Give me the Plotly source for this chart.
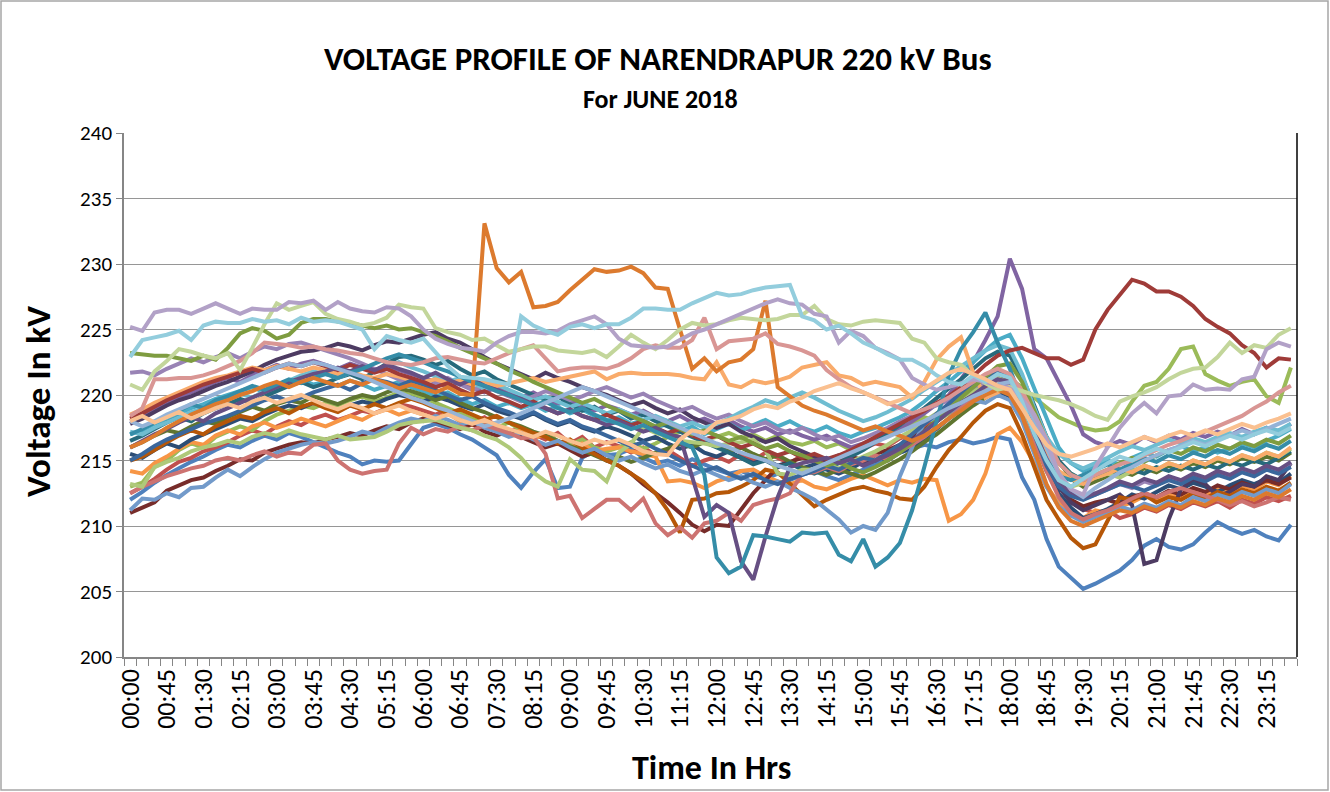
import plotly.graph_objects as go

# ---------------- data ----------------
hours = [f"{h:02d}" for h in range(24)]
minutes = ["00", "15", "30", "45"]
times = [f"{h}:{m}" for h in hours for m in minutes]   # 96 categories 00:00 .. 23:45

jun01 = [212.0,212.6,213.3,213.9,214.4,214.9,215.3,215.8, 216.2,216.0,216.5,216.9,216.6,217.1,216.8,216.4,
         216.0,215.6,215.3,214.7,215.0,214.9,215.0,216.3, 217.5,217.8,217.5,217.0,216.6,216.0,215.4,213.9,
         212.9,214.1,215.1,212.9,213.0,215.2,215.8,215.4, 215.5,215.9,215.2,214.8,215.0,214.6,215.1,214.7,
         214.3,214.0,214.2,213.8,213.6,214.0,213.5,213.9, 214.2,213.8,213.5,213.9,214.3,214.8,215.2,215.6,
         215.9,216.2,216.0,216.4,216.6,216.3,216.5,216.8, 216.6,213.7,212.0,209.0,206.9,206.0,205.2,205.6,
         206.1,206.6,207.4,208.5,209.0,208.4,208.2,208.6, 209.5,210.3,209.8,209.4,209.7,209.2,208.9,210.1]
jun02 = [212.5,213.0,213.6,214.3,214.9,215.2,215.7,216.0, 216.4,216.9,217.3,217.0,217.6,218.0,217.7,218.2,
         218.5,218.1,218.4,218.8,218.6,219.0,219.3,219.1, 218.8,218.5,218.9,218.2,217.9,218.3,217.6,217.2,
         217.5,217.0,216.6,217.1,216.3,216.8,216.0,216.4, 216.1,215.6,216.0,215.4,215.8,215.2,214.6,215.0,
         215.3,214.9,215.5,215.0,215.6,215.2,214.8,215.4, 215.1,214.7,215.0,215.5,215.9,216.3,216.1,216.7,
         217.0,217.6,218.1,218.7,219.3,219.8,220.5,221.2, 221.0,219.4,217.2,215.3,213.2,212.0,211.3,211.0,
         211.2,210.6,210.9,211.4,211.1,211.6,211.3,211.8, 211.5,211.9,211.4,212.0,211.7,212.2,211.9,212.3]
jun03 = [213.0,213.3,214.5,215.0,215.8,216.3,216.0,216.8, 217.2,217.6,217.3,218.0,218.5,218.8,219.2,219.0,
         219.4,219.2,219.6,219.9,219.5,219.8,220.2,220.0, 219.8,219.4,219.0,218.6,218.2,217.8,217.5,217.9,
         217.3,216.8,217.1,216.5,216.2,216.6,216.0,215.7, 216.0,216.4,215.9,216.3,216.8,217.2,217.0,216.6,
         216.8,217.1,216.7,217.0,216.5,216.9,216.4,216.2, 216.5,216.0,216.3,215.8,216.1,216.4,216.9,217.3,
         217.8,218.3,218.0,218.6,219.1,219.5,220.3,220.8, 221.2,220.6,219.8,219.0,218.3,217.9,217.5,217.3,
         217.4,218.0,219.5,220.7,221.0,222.0,223.5,223.7, 221.6,221.1,220.7,221.0,221.2,219.9,219.4,222.1]
jun04 = [218.0,218.4,218.9,219.5,219.8,220.2,220.6,221.0, 221.3,221.0,221.5,221.9,222.3,222.0,222.4,222.6,
         222.3,222.0,222.4,222.1,221.8,222.2,221.9,221.6, 221.3,221.0,220.6,221.0,220.5,220.2,220.6,220.1,
         219.8,220.2,219.7,219.3,219.6,219.1,218.8,219.2, 218.9,218.5,218.8,218.3,218.0,218.4,217.9,218.2,
         217.8,218.1,217.6,217.2,217.5,217.0,217.3,216.9, 216.6,216.9,216.4,216.0,216.3,216.7,217.1,217.4,
         218.0,218.6,219.3,220.0,221.2,222.5,224.2,226.0, 230.4,228.1,223.5,222.8,221.0,219.2,217.0,216.4,
         216.1,216.5,216.2,216.8,216.4,216.9,216.6,217.1, 216.8,217.2,216.9,217.4,217.0,217.5,217.2,217.8]
jun05 = [217.0,217.3,217.8,218.2,218.6,219.0,219.3,219.7, 220.0,220.3,220.6,220.2,220.5,220.9,221.2,220.8,
         221.0,220.7,221.1,220.8,220.4,220.7,221.0,220.6, 220.3,219.9,220.2,219.7,219.3,219.6,219.1,219.4,
         219.0,219.3,218.8,219.1,218.6,218.9,218.4,218.0, 218.3,217.8,218.1,217.5,217.8,217.2,217.6,217.0,
         217.4,217.8,217.3,217.7,218.1,217.6,218.0,217.5, 217.2,217.6,217.1,216.8,217.2,217.5,217.9,218.3,
         218.8,219.5,220.3,221.0,221.8,222.5,223.4,224.2, 224.6,222.8,220.5,218.2,216.0,214.8,214.2,214.6,
         215.0,214.7,215.2,215.6,215.3,215.8,216.1,215.7, 216.0,215.6,215.9,216.3,216.0,216.5,216.9,217.4]
jun06 = [214.2,214.0,214.8,215.3,215.9,216.4,216.2,216.9, 217.3,217.0,217.6,217.9,217.5,217.8,218.2,217.9,
         217.6,218.0,218.4,218.1,218.6,218.9,218.5,218.8, 218.5,218.2,218.6,218.0,217.7,218.1,217.4,217.0,
         217.3,216.7,217.0,216.4,216.0,216.3,215.7,215.9, 216.0,215.7,215.5,215.3,213.4,213.5,213.3,212.9,
         213.4,213.7,214.2,214.3,213.8,213.4,213.2,213.5, 213.0,212.8,213.2,213.6,213.9,213.5,213.1,213.5,
         213.3,213.6,213.5,210.4,210.9,212.0,214.0,217.0, 217.5,216.4,214.8,213.0,211.8,211.0,210.6,211.2,
         211.0,211.5,211.8,212.3,212.0,212.5,212.2,212.7, 212.4,212.9,212.6,213.1,212.8,213.4,213.1,213.8]
jun07 = [215.5,215.2,215.8,216.3,216.0,216.6,217.0,217.4, 217.8,218.2,218.0,218.5,218.9,219.2,219.0,219.4,
         219.1,218.8,219.2,219.5,219.3,219.7,220.0,219.8, 219.5,219.9,219.6,219.2,218.9,219.3,218.8,218.5,
         218.2,218.6,218.1,217.7,218.0,217.5,217.2,217.6, 217.3,216.9,216.5,216.8,216.3,215.9,216.2,215.6,
         215.3,215.7,215.2,214.8,215.1,214.6,214.9,214.4, 214.7,214.3,214.0,214.4,214.9,215.4,215.0,215.6,
         216.0,216.7,217.4,218.2,218.9,219.5,219.9,220.3, 219.9,218.6,216.5,214.2,212.5,211.4,210.6,210.9,
         211.3,211.8,212.4,212.1,212.6,213.1,212.8,213.3, 213.0,212.6,213.1,213.5,213.2,213.6,213.3,214.0]
jun08 = [211.0,211.4,211.8,212.7,213.1,213.5,213.7,214.2, 214.6,215.1,215.0,215.6,215.9,216.2,216.4,216.3,
         216.6,216.8,217.1,216.9,217.3,217.6,217.4,217.9, 218.2,218.0,217.7,217.4,217.8,217.2,216.9,217.3,
         216.8,216.4,216.0,216.3,215.8,215.3,215.6,215.0, 214.6,214.0,213.2,212.5,211.8,211.0,210.1,209.6,
         210.1,210.0,211.2,212.5,213.5,214.5,214.9,215.2, 215.0,214.6,214.9,215.3,215.0,215.5,215.8,216.2,
         216.7,217.3,218.0,218.8,219.6,220.4,221.0,221.5, 221.2,219.5,217.3,215.0,213.0,212.0,211.5,211.8,
         212.0,211.7,212.2,212.5,212.2,212.7,212.4,212.9, 212.6,213.1,212.8,213.3,213.0,213.5,213.2,213.7]
jun09 = [216.0,216.4,216.9,217.3,217.1,217.6,218.0,217.8, 218.3,218.7,219.1,218.8,219.3,219.6,219.4,219.9,
         219.6,219.3,219.7,220.0,219.8,220.2,220.5,220.3, 220.0,219.6,219.9,219.4,219.0,218.7,218.3,217.9,
         217.6,217.2,216.9,216.5,216.1,215.8,215.4,215.0, 215.3,214.9,215.2,215.6,215.9,216.3,216.0,216.4,
         216.1,215.7,216.0,215.5,215.1,215.4,214.9,214.5, 214.2,213.9,214.3,214.0,213.7,214.1,214.6,215.1,
         215.7,216.4,217.0,217.8,218.5,219.2,219.8,220.4, 220.8,220.0,218.6,216.8,215.0,213.6,213.0,213.4,
         213.8,214.2,213.9,214.4,214.1,214.6,214.3,214.8, 214.5,215.0,214.7,215.2,214.9,215.3,215.0,215.6]
jun10 = [217.8,218.2,218.7,219.2,219.6,219.9,220.3,220.7, 221.0,221.4,221.8,222.3,222.7,223.0,223.3,223.4,
         223.6,223.9,223.7,223.4,223.8,224.1,224.0,224.3, 224.6,224.8,224.3,224.0,223.5,222.9,222.4,222.0,
         221.6,221.2,221.7,221.3,221.0,220.6,220.3,220.0, 219.6,219.2,219.5,219.0,218.6,218.9,218.3,217.9,
         217.5,217.8,217.2,216.8,216.4,216.7,216.1,215.7, 215.3,215.0,215.4,215.1,214.7,215.0,215.5,216.0,
         216.6,217.2,218.0,218.8,219.6,220.3,221.0,221.6, 221.4,219.6,217.4,215.2,213.0,211.8,211.2,211.6,
         212.0,212.4,211.6,207.1,207.4,210.5,212.8,213.6, 213.2,212.3,212.6,213.2,213.0,213.8,213.5,214.8]
jun11 = [216.5,216.9,217.4,217.9,218.3,218.0,218.6,219.0, 219.3,219.7,219.4,219.9,220.3,220.7,221.0,220.6,
         220.9,221.3,221.6,221.2,221.8,222.4,222.9,223.0, 222.7,222.3,222.6,222.0,221.5,221.8,221.2,220.8,
         220.4,220.0,219.6,219.9,219.3,218.8,219.1,218.5, 218.8,218.2,218.5,218.0,217.6,217.2,216.8,216.4,
         216.0,215.6,215.2,214.7,215.0,214.5,214.8,214.3, 214.0,214.4,214.8,215.3,215.8,216.4,217.1,217.7,
         218.4,219.0,219.8,220.5,221.2,222.0,222.8,223.3, 223.0,221.4,219.2,216.8,215.0,214.0,213.5,213.8,
         214.1,213.8,214.3,214.0,214.5,214.2,214.6,214.3, 214.7,214.4,214.9,214.6,215.0,214.7,215.2,215.7]
jun12 = [215.0,215.3,215.8,216.4,216.9,217.3,217.0,217.6, 218.0,218.4,218.2,218.7,219.0,218.6,219.1,219.4,
         219.0,218.7,219.2,218.9,219.3,219.0,219.4,219.7, 219.4,219.0,218.6,218.9,218.5,218.1,218.4,217.9,
         217.5,217.1,216.8,216.3,216.6,216.0,215.5,215.0, 214.6,214.0,213.4,212.5,211.2,209.5,212.0,212.1,
         212.5,212.6,213.0,213.5,214.3,214.1,213.2,212.4, 211.5,212.0,212.4,212.8,213.0,212.7,212.5,212.1,
         212.0,213.0,214.5,215.8,216.8,217.9,218.8,219.3, 219.0,217.0,214.5,212.0,210.5,209.1,208.3,208.6,
         210.4,212.2,212.0,212.4,211.8,212.2,212.0,212.5, 212.1,212.6,212.3,212.8,212.5,213.0,212.7,213.3]
jun13 = [211.2,212.1,212.0,212.5,212.2,212.9,213.0,213.7, 214.3,213.8,214.5,215.1,215.6,215.9,216.2,216.4,
         216.3,216.5,216.8,217.2,217.0,217.5,217.9,218.2, 218.0,218.4,218.1,217.7,218.0,217.5,217.2,216.8,
         217.1,216.6,216.2,216.5,216.0,215.6,215.9,215.4, 215.0,215.3,214.8,214.4,214.7,214.2,213.9,214.3,
         213.9,213.5,213.8,213.3,213.0,213.4,212.9,212.5, 212.0,211.2,210.5,209.5,210.0,209.7,211.0,213.8,
         216.0,217.9,218.3,218.7,219.1,219.6,219.4,220.0, 219.6,218.0,215.5,213.0,211.5,210.8,210.3,210.7,
         211.0,211.5,211.2,211.7,211.4,211.9,211.6,212.2, 211.9,212.4,212.1,212.6,212.3,212.8,212.5,213.2]
jun14 = [212.5,213.0,213.4,213.8,214.1,214.4,214.6,215.0, 215.2,215.0,215.4,215.7,215.3,215.6,215.5,216.2,
         216.3,215.0,214.3,214.0,214.2,214.3,216.3,217.5, 217.0,217.4,217.2,217.6,217.3,217.7,217.4,217.1,
         216.7,216.8,215.5,212.1,212.3,210.6,211.3,212.0, 212.0,211.2,212.1,210.2,209.3,209.9,209.1,210.2,
         210.4,211.0,210.4,211.6,211.9,212.1,212.5,214.0, 214.1,214.5,214.2,214.7,215.0,215.4,215.1,215.7,
         216.2,216.8,217.5,218.2,219.0,219.6,220.2,220.6, 220.3,218.8,216.5,214.2,212.2,211.0,210.5,210.9,
         211.2,211.6,212.1,212.5,212.2,212.6,212.9,212.6, 212.3,212.0,211.6,211.9,211.5,211.8,212.2,212.0]
jun15 = [213.2,213.0,214.5,214.9,215.2,215.7,216.0,216.2, 216.5,216.3,216.8,217.1,216.9,217.3,217.0,216.8,
         216.6,216.9,216.6,216.7,216.8,217.2,217.7,217.9, 218.0,218.1,217.8,217.5,217.3,216.9,216.6,216.0,
         215.2,214.1,213.4,213.0,215.1,214.3,214.2,213.4, 215.6,216.3,217.5,217.1,216.8,216.5,216.4,216.3,
         216.1,216.3,216.4,216.6,215.8,214.0,213.9,214.3, 214.3,214.7,214.4,214.9,215.3,215.7,216.2,216.8,
         217.3,218.0,218.6,219.2,219.8,220.3,220.9,221.3, 220.9,219.2,217.0,215.0,213.6,213.0,213.3,213.7,
         214.0,213.7,214.2,214.6,214.3,214.8,214.5,215.0, 214.7,215.2,214.9,215.4,215.1,215.6,215.3,215.9]
jun16 = [221.7,221.8,221.5,222.0,222.4,222.8,222.5,222.9, 223.2,222.8,223.3,223.7,223.5,223.9,224.0,223.7,
         223.4,223.1,222.8,222.4,222.0,221.6,221.2,220.8, 220.5,220.9,221.3,220.8,220.4,220.7,220.3,219.9,
         219.5,219.9,220.3,220.0,219.6,219.9,220.3,220.6, 220.2,219.8,220.1,219.6,219.2,218.8,219.1,218.6,
         218.2,218.5,218.0,217.6,217.9,217.4,217.1,217.5, 217.0,216.6,216.9,216.4,216.7,217.1,217.5,218.0,
         218.4,218.9,219.2,219.6,220.2,220.6,221.0,221.2, 220.6,219.4,217.6,215.5,213.4,212.5,212.1,212.4,
         212.8,213.2,212.9,213.4,213.1,213.6,213.3,213.8, 213.5,214.0,213.7,214.2,214.0,214.4,214.2,214.8]
jun17 = [217.2,217.0,217.5,217.9,218.3,218.7,219.0,219.4, 219.7,220.1,219.8,220.3,220.7,221.1,221.5,221.8,
         221.6,221.3,221.7,222.1,221.8,222.2,222.5,222.1, 221.8,221.4,221.0,221.3,220.9,220.5,220.8,220.4,
         220.0,219.6,219.9,219.5,219.1,219.4,219.0,218.6, 218.9,218.5,218.1,218.4,218.0,217.6,217.9,217.5,
         217.8,218.2,218.7,219.1,219.6,219.3,219.8,220.2, 219.8,219.3,218.8,218.4,218.0,218.3,218.7,219.2,
         219.7,220.4,221.0,221.6,222.2,222.8,223.4,223.8, 223.5,221.6,219.0,216.8,215.5,214.8,214.4,214.8,
         215.2,215.7,216.1,215.8,216.2,216.6,216.3,216.7, 216.4,216.8,217.1,216.8,217.2,217.5,217.3,217.8]
jun18 = [218.5,218.9,219.4,219.8,220.2,220.6,221.0,221.3, 221.5,221.8,222.1,221.9,222.2,222.0,221.8,222.1,
         221.9,221.6,221.8,221.5,221.3,221.6,221.4,221.1, 221.0,221.2,220.9,221.1,220.8,221.0,220.7,220.9,
         221.1,221.3,221.0,221.2,221.4,221.6,221.8,221.2, 221.6,221.7,221.6,221.6,221.6,221.5,221.3,221.2,
         222.5,220.8,220.6,221.1,220.9,221.1,221.4,222.1, 222.3,222.5,221.5,221.3,220.8,221.0,220.8,220.6,
         219.8,221.0,222.7,223.7,224.4,221.7,219.8,220.2, 220.6,220.5,218.2,215.8,214.2,213.6,213.2,213.7,
         214.0,214.4,214.1,214.6,214.3,214.8,214.5,215.0, 214.7,215.2,214.9,215.4,215.1,215.6,215.3,216.0]
jun19 = [215.0,215.5,216.1,216.6,217.0,217.4,217.8,218.1, 218.4,218.8,219.2,219.6,219.9,219.5,219.8,220.2,
         220.5,220.8,220.4,220.9,221.2,221.0,220.7,221.1, 220.8,220.4,220.0,219.6,219.9,219.4,219.0,218.7,
         218.3,218.7,218.2,217.8,218.1,217.6,217.3,216.9, 216.5,216.1,216.4,215.9,215.5,215.0,214.6,214.2,
         214.5,214.0,213.6,214.0,213.5,213.2,213.6,213.9, 214.2,214.6,214.3,214.8,215.2,215.0,215.6,216.2,
         217.0,217.8,218.6,219.4,220.1,220.8,221.4,221.8, 221.5,219.7,217.0,214.6,213.0,212.3,212.0,212.4,
         212.8,213.2,213.0,212.7,213.1,213.5,213.2,213.7, 213.4,213.9,213.6,214.1,213.8,214.3,214.0,214.5]
jun20 = [218.2,218.6,219.1,219.6,220.0,220.4,220.8,221.1, 221.4,221.7,222.0,221.7,222.1,222.4,222.2,222.5,
         222.2,221.9,222.3,222.0,221.7,222.0,221.6,221.3, 221.0,220.6,220.9,220.4,220.0,220.3,219.8,219.5,
         219.1,219.5,219.0,218.6,218.9,218.4,218.1,218.5, 218.1,217.7,218.0,217.5,217.1,217.4,216.9,216.6,
         216.9,216.4,216.0,216.3,215.8,215.4,215.7,215.2, 215.5,215.1,215.4,215.8,216.3,216.8,217.3,217.8,
         218.3,218.8,219.4,219.9,220.6,221.5,222.3,223.0, 223.4,223.6,223.2,222.8,222.8,222.3,222.7,225.0,
         226.5,227.6,228.8,228.5,227.9,227.9,227.5,226.8, 225.8,225.2,224.7,223.8,223.2,222.1,222.8,222.7]
jun21 = [223.2,223.1,223.0,223.0,222.8,222.6,223.0,222.7, 223.6,224.7,225.1,224.9,224.3,224.6,225.5,225.8,
         225.8,225.6,225.5,225.3,225.1,225.3,225.0,225.1, 224.8,224.5,224.1,223.6,223.2,222.8,222.4,221.9,
         221.5,221.0,220.6,220.2,219.8,219.4,219.7,219.2, 218.8,218.4,218.0,217.6,217.9,217.4,217.0,217.3,
         216.9,216.5,216.8,216.3,215.9,216.2,215.7,215.4, 215.0,214.6,214.9,214.4,214.1,214.5,215.0,215.6,
         216.4,217.2,218.0,218.9,219.8,220.6,221.5,222.2, 222.4,221.0,218.8,216.5,214.8,213.9,213.5,213.9,
         214.3,214.8,215.2,214.9,215.4,215.8,215.5,216.0, 215.7,216.2,215.9,216.4,216.1,216.6,216.3,216.9]
jun22 = [216.0,216.5,217.0,217.4,217.9,218.3,218.0,218.6, 219.0,219.4,219.8,220.2,220.6,221.0,221.3,221.6,
         221.8,222.1,221.8,222.2,221.9,222.3,222.0,221.7, 221.3,221.7,221.2,220.8,221.2,220.7,220.4,220.0,
         219.7,219.3,219.0,218.6,218.9,218.4,218.1,217.7, 218.0,217.6,217.2,217.5,217.0,216.8,213.7,210.7,
         211.6,211.0,207.3,205.9,209.2,212.2,214.5,214.8, 215.0,215.2,214.8,215.1,214.6,215.0,215.4,215.9,
         216.5,217.2,218.0,218.7,219.4,220.0,220.7,221.2, 221.0,219.5,217.3,215.1,213.4,212.6,212.2,212.5,
         212.9,213.4,213.1,213.6,213.3,213.8,213.5,214.0, 213.7,214.2,213.9,214.4,214.1,214.6,214.3,214.9]
jun23 = [217.0,217.4,217.9,218.4,218.8,219.3,219.0,219.6, 219.9,220.3,220.7,220.4,220.8,221.2,220.9,221.3,
         221.6,221.3,221.7,222.0,222.4,222.8,223.1,222.8, 222.5,222.1,221.8,221.4,221.0,220.7,220.3,220.0,
         219.6,219.2,219.5,219.0,218.7,219.0,218.5,218.1, 217.8,217.4,217.7,217.2,216.8,216.4,216.0,213.9,
         207.6,206.4,206.9,209.3,209.2,209.0,208.8,209.5, 209.4,209.5,207.8,207.3,209.0,206.9,207.6,208.7,
         211.2,214.5,218.0,221.5,223.5,224.8,226.3,224.0, 222.0,219.5,217.0,215.0,213.8,213.5,213.9,214.3,
         214.7,214.3,214.8,215.2,214.9,215.4,215.1,215.6, 215.3,215.8,215.5,216.0,215.7,216.2,215.9,216.5]
jun24 = [216.0,216.4,216.9,217.5,218.0,218.5,218.9,219.3, 219.6,220.0,220.3,220.7,221.0,220.6,221.0,221.3,
         221.0,220.7,221.1,220.8,221.2,220.9,220.5,220.8, 220.5,220.2,220.6,220.1,220.0,233.1,229.7,228.6,
         229.4,226.7,226.8,227.1,228.0,228.8,229.6,229.4, 229.5,229.8,229.3,228.2,228.1,225.0,222.0,222.8,
         221.8,222.5,222.7,223.5,227.2,220.6,219.9,219.2, 218.8,218.5,218.1,217.7,217.3,217.6,217.2,216.9,
         216.5,216.9,217.5,218.2,218.8,219.5,220.0,220.4, 220.0,218.4,215.8,213.2,211.4,210.4,210.0,210.4,
         210.8,211.2,211.0,211.5,211.2,211.7,211.4,211.9, 211.6,212.1,211.8,212.3,212.0,212.5,212.2,212.8]
jun25 = [218.0,217.6,218.0,218.5,218.9,219.3,219.7,220.1, 220.5,220.9,221.3,221.7,222.1,222.4,222.2,222.5,
         222.3,222.0,221.7,221.4,221.0,220.6,220.2,219.8, 219.5,219.1,218.8,218.4,218.0,217.6,217.9,218.2,
         218.6,219.0,219.4,219.8,220.2,220.6,220.3,219.9, 219.5,219.1,218.7,218.3,217.9,217.5,217.1,216.7,
         216.3,216.0,215.6,215.3,215.0,214.6,214.3,214.0, 214.4,214.8,215.2,215.6,216.0,216.4,216.8,217.2,
         217.6,218.0,218.5,219.0,219.4,219.9,220.3,220.8, 221.0,220.0,218.0,216.0,214.0,212.8,212.2,212.9,
         213.5,214.1,214.5,215.0,215.4,215.8,216.1,216.5, 216.2,216.6,216.9,217.3,217.0,217.4,217.8,218.2]
jun26 = [218.4,219.0,221.2,221.2,221.3,221.3,221.5,221.8, 222.2,222.6,223.2,224.0,223.9,223.8,223.6,223.7,
         223.5,223.4,223.2,223.1,222.8,222.5,222.4,222.3, 222.5,222.8,222.9,222.7,222.5,222.4,222.8,223.2,
         223.5,223.8,222.8,221.8,222.0,222.1,222.1,222.0, 222.3,222.8,223.5,223.8,223.6,223.6,224.2,225.9,
         223.5,224.1,224.2,224.3,224.7,223.9,223.7,223.4, 223.0,221.9,221.2,220.6,220.2,219.8,219.4,219.0,
         218.6,218.9,219.3,219.8,220.4,221.0,221.6,222.0, 221.6,220.3,218.5,216.6,214.8,213.9,213.5,213.9,
         214.3,214.7,215.0,215.4,215.8,216.2,216.5,216.9, 217.2,217.6,218.0,218.4,219.0,219.5,220.2,220.7]
jun27 = [220.8,220.4,221.8,222.6,223.5,223.3,223.0,222.8, 223.2,221.9,223.6,225.4,227.0,226.5,226.8,227.1,
         226.2,225.8,225.6,225.3,225.5,225.9,226.9,226.7, 226.6,225.1,224.8,224.6,224.2,224.3,223.8,223.3,
         223.5,223.7,223.7,223.4,223.3,223.2,223.4,222.9, 223.7,224.6,224.0,223.5,224.2,225.0,225.5,225.3,
         225.4,225.7,225.9,225.8,225.7,225.8,226.1,226.1, 226.8,225.8,225.4,225.3,225.6,225.7,225.6,225.5,
         224.3,224.0,222.8,222.5,222.3,221.5,220.9,220.4, 220.6,220.3,220.0,219.8,219.6,219.3,218.9,218.4,
         218.1,219.5,219.9,220.2,220.6,221.2,221.7,222.0, 222.1,222.9,224.0,223.2,223.8,223.6,224.6,225.1]
jun28 = [225.2,224.9,226.3,226.5,226.5,226.2,226.6,227.0, 226.6,226.2,226.6,226.5,226.5,227.1,227.0,227.2,
         226.5,227.1,226.6,226.4,226.3,226.7,226.6,226.0, 225.0,224.3,223.9,223.6,223.5,223.3,224.0,224.5,
         224.8,224.8,224.7,224.9,225.4,225.7,226.0,225.4, 224.3,223.8,223.7,223.6,223.7,224.2,224.7,225.0,
         225.4,225.8,226.2,226.6,227.0,227.3,227.0,226.9, 226.2,226.0,224.0,224.9,224.5,223.6,223.2,222.7,
         221.3,220.8,220.4,220.6,220.9,221.2,221.0,220.7, 220.5,219.7,218.5,216.5,214.0,212.8,212.4,214.5,
         216.0,217.5,218.6,219.4,218.6,219.9,220.0,220.8, 220.4,220.5,220.4,221.2,221.4,223.5,224.0,223.7]
jun29 = [222.9,224.2,224.4,224.6,224.9,224.2,225.3,225.6, 225.5,225.5,225.8,225.6,225.7,225.4,225.9,225.6,
         225.7,225.6,225.3,225.0,223.5,224.5,224.2,224.0, 224.3,223.3,222.2,221.4,221.3,221.2,221.0,220.8,
         226.0,225.3,224.9,224.6,225.2,225.4,225.1,225.4, 225.4,225.9,226.6,226.6,226.5,226.5,227.0,227.4,
         227.8,227.6,227.7,228.0,228.2,228.3,228.4,226.0, 225.7,225.0,225.3,224.7,224.0,223.6,223.1,222.7,
         222.7,222.2,221.5,221.0,220.8,221.5,221.0,221.6, 221.3,219.5,217.0,215.0,213.5,213.0,213.6,214.2,
         214.8,215.3,215.0,215.5,215.9,215.6,216.0,216.4, 216.1,216.5,216.9,216.6,217.0,217.3,217.0,217.5]
jun30 = [218.0,218.4,217.9,218.3,218.7,218.2,218.6,219.0, 219.3,219.0,219.5,219.8,219.4,219.7,220.0,219.6,
         219.2,218.9,219.3,219.0,218.6,218.9,219.2,218.8, 218.5,218.2,218.5,218.1,217.8,218.1,217.7,217.4,
         217.1,216.8,217.2,216.9,216.5,216.2,216.6,216.3, 216.6,216.2,215.7,215.5,215.4,216.6,217.3,217.1,
         217.9,218.1,218.4,218.9,219.2,219.0,219.5,219.8, 220.3,220.6,220.9,220.5,220.2,219.8,219.3,219.6,
         220.0,220.5,221.1,221.7,222.0,221.6,221.2,220.7, 220.4,219.0,217.5,216.2,215.5,215.3,215.6,215.9,
         216.3,216.0,216.4,216.8,216.5,216.9,217.2,216.9, 217.3,217.0,217.4,217.8,217.5,217.9,218.2,218.6]

series = [jun01, jun02, jun03, jun04, jun05, jun06, jun07, jun08, jun09, jun10,
          jun11, jun12, jun13, jun14, jun15, jun16, jun17, jun18, jun19, jun20,
          jun21, jun22, jun23, jun24, jun25, jun26, jun27, jun28, jun29, jun30]
names = [f"{d:02d}-06-2018" for d in range(1, 31)]

# ---------------- styles ----------------
colors = ["#4F81BD", "#C0504D", "#9BBB59", "#8064A2", "#4BACC6", "#F79646",
          "#2C4D75", "#772C2A", "#5F7530", "#4D3B62", "#276A7C", "#B65708",
          "#729ACA", "#CD7371", "#AFC97A", "#9983B5", "#6FBDD1", "#F9AB6B",
          "#3A679C", "#9F3B38", "#7E9C40", "#664F83", "#358DA8", "#DC7A2E",
          "#95B3D7", "#D99694", "#C3D69B", "#B2A1C7", "#93CDDD", "#FAC090"]

FONT = "Carlito, Calibri, Lato, sans-serif"

L, R, T, B = 124, 33, 133, 135
W, H = 1330, 792
PW, PH = W - L - R, H - T - B


def px(x):
    return (x - L) / PW


def py(y):
    return (H - B - y) / PH


fig = go.Figure()
for name, vals, col in zip(names, series, colors):
    fig.add_trace(go.Scatter(x=list(range(len(vals))), y=vals, mode="lines", name=name,
                             line=dict(color=col, width=4), hoverinfo="y+name"))

fig.update_layout(
    width=W, height=H, margin=dict(l=L, r=R, t=T, b=B),
    paper_bgcolor="white", plot_bgcolor="white", showlegend=False,
    font=dict(family=FONT, color="black"),
    annotations=[
        dict(text="<b>VOLTAGE PROFILE OF NARENDRAPUR 220 kV Bus</b>", x=px(658), y=py(59),
             xref="paper", yref="paper", showarrow=False, xanchor="center", yanchor="middle",
             font=dict(size=33)),
        dict(text="<b>For JUNE 2018</b>", x=px(660), y=py(99), xref="paper", yref="paper",
             showarrow=False, xanchor="center", yanchor="middle", font=dict(size=26)),
        dict(text="<b>Time In Hrs</b>", x=px(711), y=py(767), xref="paper", yref="paper",
             showarrow=False, xanchor="center", yanchor="middle", font=dict(size=34)),
        dict(text="<b>Voltage In kV</b>", x=px(38), y=py(402), xref="paper", yref="paper",
             showarrow=False, xanchor="center", yanchor="middle", textangle=-90,
             font=dict(size=35)),
    ],
    shapes=[
        dict(type="rect", xref="paper", yref="paper", x0=px(1), x1=px(1328), y0=py(790), y1=py(1),
             line=dict(color="#A6A6A6", width=1.5), layer="below"),
        dict(type="line", xref="paper", yref="paper", x0=1, x1=1, y0=0, y1=1,
             line=dict(color="#000000", width=1.5), layer="above"),
    ],
)

fig.update_xaxes(
    range=[-0.5, len(times) - 0.5], tickmode="array",
    tickvals=list(range(0, len(times), 3)), ticktext=times[::3],
    tickangle=-90, ticks="", showgrid=False, zeroline=False,
    showline=True, linecolor="#868686", linewidth=1.5,
    tickfont=dict(size=26, color="black"),
    minor=dict(ticks="outside", tickmode="linear", tick0=-0.5, dtick=1, ticklen=7,
               tickcolor="#868686", tickwidth=1.2, showgrid=False),
)
fig.update_yaxes(
    range=[200, 240], tick0=200, dtick=5, showgrid=True, gridcolor="#969696", gridwidth=1.2,
    zeroline=False, showline=True, linecolor="#868686", linewidth=1.5,
    ticks="outside", ticklen=6, tickcolor="#868686", tickwidth=1.2,
    tickfont=dict(size=21, color="black"),
)

fig.write_html("out.html", config={"displayModeBar": False},
               post_script="document.body.style.margin='0';document.body.style.overflow='hidden';")
